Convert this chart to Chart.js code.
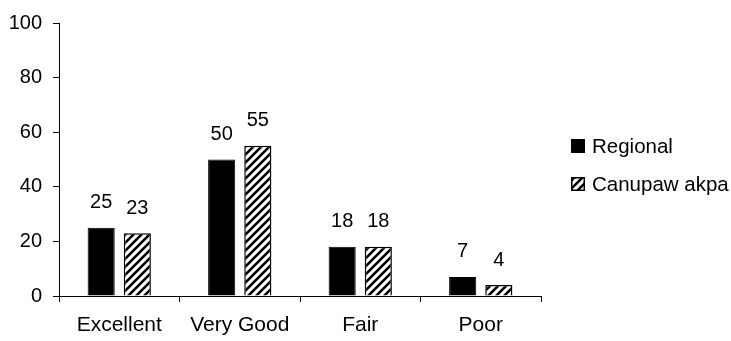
<!DOCTYPE html>
<html>
<head>
<meta charset="utf-8">
<script src="https://cdn.jsdelivr.net/npm/chart.js@4/dist/chart.umd.min.js"></script>
<style>
  html, body { margin: 0; padding: 0; background: #fff; }
  #wrap { width: 731px; height: 341px; }
</style>
</head>
<body>
<div id="wrap"><canvas id="c" width="731" height="341"></canvas></div>
<script>
// Ratings by category
const categories = ['Excellent', 'Very Good', 'Fair', 'Poor'];
const regional = [25, 50, 18, 7];
const canupawAkpa = [23, 55, 18, 4];
const seriesNames = ['Regional', 'Canupaw akpa'];
const yTicks = [0, 20, 40, 60, 80, 100];

const FONT = '"Liberation Sans", Arial, sans-serif';

// Diagonal "/" hatch used for the second series
function makeHatch(ctx) {
  const s = 8;
  const t = document.createElement('canvas');
  t.width = s; t.height = s;
  const g = t.getContext('2d');
  g.fillStyle = '#fff';
  g.fillRect(0, 0, s, s);
  g.strokeStyle = '#000';
  g.lineWidth = 2.6;
  g.beginPath();
  g.moveTo(-2, s + 2); g.lineTo(s + 2, -2);
  g.moveTo(-2, 2); g.lineTo(2, -2);
  g.moveTo(s - 2, s + 2); g.lineTo(s + 2, s - 2);
  g.stroke();
  return ctx.createPattern(t, 'repeat');
}

const canvas = document.getElementById('c');
const ctx = canvas.getContext('2d');
const hatch = makeHatch(ctx);

// Value labels above each bar
const valueLabels = {
  id: 'valueLabels',
  afterDatasetsDraw(chart) {
    const c = chart.ctx;
    c.save();
    c.font = '20px ' + FONT;
    c.fillStyle = '#000';
    c.textAlign = 'center';
    c.textBaseline = 'alphabetic';
    chart.data.datasets.forEach((ds, i) => {
      chart.getDatasetMeta(i).data.forEach((bar, j) => {
        c.fillText(String(ds.data[j]), bar.x, bar.y - 19.5);
      });
    });
    c.restore();
  }
};

// Legend at the right of the plot
const sideLegend = {
  id: 'sideLegend',
  afterDraw(chart) {
    const c = chart.ctx;
    const x = 571, y0 = 139, gap = 38, box = 14;
    c.save();
    c.font = '20.5px ' + FONT;
    c.textAlign = 'left';
    c.textBaseline = 'middle';
    chart.data.datasets.forEach((ds, i) => {
      const y = y0 + gap * i;
      c.fillStyle = ds.backgroundColor;
      c.fillRect(x, y, box, box);
      c.strokeStyle = '#000';
      c.lineWidth = 1.5;
      c.strokeRect(x + 0.75, y + 0.75, box - 1.5, box - 1.5);
      c.fillStyle = '#000';
      c.fillText(ds.label, x + 21, y + box / 2 + 1);
    });
    c.restore();
  }
};

new Chart(ctx, {
  type: 'bar',
  data: {
    labels: categories,
    datasets: [
      {
        label: seriesNames[0],
        data: regional,
        backgroundColor: '#000',
        borderColor: '#000',
        borderWidth: 1
      },
      {
        label: seriesNames[1],
        data: canupawAkpa,
        backgroundColor: hatch,
        borderColor: '#000',
        borderWidth: 1.5
      }
    ]
  },
  options: {
    responsive: false,
    animation: false,
    layout: { padding: { left: 0, right: 190, top: 17, bottom: 0 } },
    categoryPercentage: 0.6,
    barPercentage: 0.75,
    plugins: {
      legend: { display: false },
      tooltip: { enabled: false }
    },
    scales: {
      x: {
        grid: {
          offset: true,
          drawOnChartArea: false,
          tickLength: 6,
          tickColor: '#000',
          tickWidth: 1
        },
        border: { color: '#000', width: 1 },
        ticks: {
          color: '#000',
          font: { family: FONT, size: 21 },
          padding: 11,
          maxRotation: 0,
          autoSkip: false
        },
        afterFit(scale) { scale.height = 45; }
      },
      y: {
        min: 0,
        max: 100,
        afterBuildTicks(scale) { scale.ticks = yTicks.map(v => ({ value: v })); },
        grid: {
          drawOnChartArea: false,
          tickLength: 6,
          tickColor: '#000',
          tickWidth: 1
        },
        border: { color: '#000', width: 1 },
        ticks: {
          color: '#000',
          font: { family: FONT, size: 20 },
          padding: 11
        },
        afterFit(scale) { scale.width = 59; }
      }
    }
  },
  plugins: [valueLabels, sideLegend]
});
</script>
</body>
</html>
